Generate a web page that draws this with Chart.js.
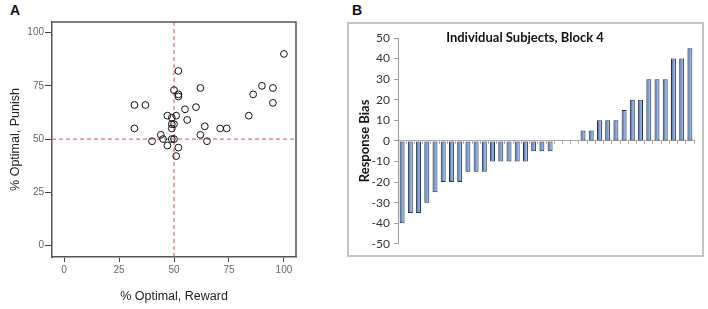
<!DOCTYPE html>
<html>
<head>
<meta charset="utf-8">
<script src="https://cdn.jsdelivr.net/npm/chart.js@4.4.1/dist/chart.umd.min.js"></script>
<style>
  body { margin: 0; background: #fff; width: 708px; height: 309px; position: relative; overflow: hidden; }
  .panel-label { position: absolute; font: bold 14px "Liberation Sans", Arial, sans-serif; color: #111; }
  #wrapA { position: absolute; left: 0; top: 0; width: 320px; height: 309px; }
  #wrapB { position: absolute; left: 347px; top: 22px; width: 357px; height: 235px; border: 2px solid #c4c4c4; box-sizing: border-box; }
  #titleB { position: absolute; left: 349px; top: 29px; width: 352px; text-align: center; font: bold 13px Lato, "Open Sans", sans-serif; color: #111; }
</style>
</head>
<body>
<div class="panel-label" style="left:10px; top:2px;">A</div>
<div class="panel-label" style="left:352px; top:2px;">B</div>
<div id="wrapA"><canvas id="scatterChart" width="320" height="309"></canvas></div>
<div id="wrapB"><canvas id="biasChart" width="353" height="231"></canvas></div>
<div id="titleB">Individual Subjects, Block 4</div>
<script>
// Panel A: % optimal choices per subject
var rewardPct = [100, 90, 95, 86, 95, 84, 52, 50, 52, 52, 62, 32, 37, 32, 55, 60, 56, 47,
                 51, 49, 49, 50, 49, 64, 62, 71, 74, 44, 45, 40, 47, 49, 50, 52, 51, 65];
var punishPct = [90, 75, 74, 71, 67, 61, 82, 73, 71, 70, 74, 66, 66, 55, 64, 65, 59, 61,
                 61, 60, 57, 57, 55, 56, 52, 55, 55, 52, 50, 49, 47, 50, 50, 46, 42, 49];
var pctTicks = [0, 25, 50, 75, 100];
var chanceLevel = 50;

// Panel B: response bias per subject, block 4
var subjects = ['1', '2', '3', '4', '5', '6', '7', '8', '9', '10', '11', '12', '13', '14', '15', '16', '17', '18',
                '19', '20', '21', '22', '23', '24', '25', '26', '27', '28', '29', '30', '31', '32', '33', '34', '35', '36'];
var responseBias = [-40, -35, -35, -30, -25, -20, -20, -20, -15, -15, -15, -10, -10, -10, -10, -10, -5, -5,
                    -5, 0, 0, 0, 5, 5, 10, 10, 10, 15, 20, 20, 30, 30, 30, 40, 40, 45];

Chart.defaults.animation = false;

var points = rewardPct.map(function (r, i) { return { x: r, y: punishPct[i] }; });

new Chart(document.getElementById('scatterChart'), {
    type: 'scatter',
    data: {
        datasets: [{
            data: points,
            pointRadius: 3.4,
            pointBorderWidth: 1,
            pointBorderColor: '#111',
            pointBackgroundColor: 'rgba(0,0,0,0)'
        }, {
            type: 'line',
            data: [{ x: chanceLevel, y: -5.4 }, { x: chanceLevel, y: 105 }],
            borderColor: '#d9534f',
            borderWidth: 1,
            borderDash: [4, 3],
            pointRadius: 0
        }, {
            type: 'line',
            data: [{ x: -5.5, y: chanceLevel }, { x: 105.5, y: chanceLevel }],
            borderColor: '#d9534f',
            borderWidth: 1,
            borderDash: [4, 3],
            pointRadius: 0
        }]
    },
    options: {
        responsive: false,
        layout: { padding: { top: 22, right: 24, left: 0, bottom: 0 } },
        plugins: { legend: { display: false }, tooltip: { enabled: false } },
        scales: {
            x: {
                type: 'linear', min: -5.5, max: 105.5,
                afterBuildTicks: function (s) { s.ticks = pctTicks.map(function (v) { return { value: v }; }); },
                afterFit: function (s) { s.height = 52; },
                grid: { drawOnChartArea: false, tickLength: 5, color: '#444' },
                border: { color: '#555', width: 1.5 },
                ticks: { color: '#666', font: { family: 'Liberation Sans', size: 10 }, padding: 2, maxRotation: 0 },
                title: { display: true, text: '% Optimal, Reward', color: '#222',
                         font: { family: 'Liberation Sans', size: 12.5 }, padding: { top: 0, bottom: 5 } }
            },
            y: {
                type: 'linear', min: -5.4, max: 105,
                afterBuildTicks: function (s) { s.ticks = pctTicks.map(function (v) { return { value: v }; }); },
                afterFit: function (s) { s.width = 52; },
                grid: { drawOnChartArea: false, tickLength: 7, color: '#444' },
                border: { color: '#555', width: 1.5 },
                ticks: { color: '#666', font: { family: 'Liberation Sans', size: 10 }, padding: 1 },
                title: { display: true, text: '% Optimal, Punish', color: '#222',
                         font: { family: 'Liberation Sans', size: 12.5 }, padding: { top: 8, bottom: 0 } }
            }
        }
    },
    plugins: [{
        // close the box on top and right like the original frame
        id: 'frame',
        afterDraw: function (chart) {
            var a = chart.chartArea, c = chart.ctx;
            c.save();
            c.strokeStyle = '#555';
            c.lineWidth = 1.5;
            c.beginPath();
            c.moveTo(a.left, a.top); c.lineTo(a.right, a.top); c.lineTo(a.right, a.bottom);
            c.stroke();
            c.restore();
        }
    }]
});

new Chart(document.getElementById('biasChart'), {
    type: 'bar',
    data: {
        labels: subjects,
        datasets: [{
            data: responseBias,
            barPercentage: 0.6,
            categoryPercentage: 1,
            borderColor: '#1f3150',
            borderWidth: 1,
            borderSkipped: false,
            backgroundColor: function (c) {
                var sx = c.chart.scales.x;
                if (!sx || c.type !== 'data') return '#5f84b6';
                var x = sx.getPixelForValue(c.dataIndex);
                if (!isFinite(x)) return '#5f84b6';
                var g = c.chart.ctx.createLinearGradient(x - 2.5, 0, x + 2.5, 0);
                g.addColorStop(0, '#34588a');
                g.addColorStop(0.65, '#9db8dc');
                g.addColorStop(1, '#6f90bf');
                return g;
            }
        }]
    },
    options: {
        responsive: false,
        layout: { padding: { top: 14, right: 8, left: 0, bottom: 10 } },
        plugins: { legend: { display: false }, tooltip: { enabled: false } },
        scales: {
            x: {
                position: { y: 0 },
                grid: { drawOnChartArea: false, offset: true, tickLength: 3, color: '#aaa' },
                border: { color: '#aaa', width: 1 },
                ticks: { display: false }
            },
            y: {
                min: -50, max: 50,
                afterFit: function (s) { s.width = 49; },
                grid: { drawOnChartArea: false, tickLength: 4, color: '#999' },
                border: { color: '#999', width: 1 },
                ticks: { stepSize: 10, color: '#333', font: { family: 'Lato', size: 12 }, padding: 4 },
                title: { display: true, text: 'Response Bias', color: '#111',
                         font: { family: 'Lato', size: 13, weight: 'bold' }, padding: { top: 8, bottom: 0 } }
            }
        }
    }
});
</script>
</body>
</html>
